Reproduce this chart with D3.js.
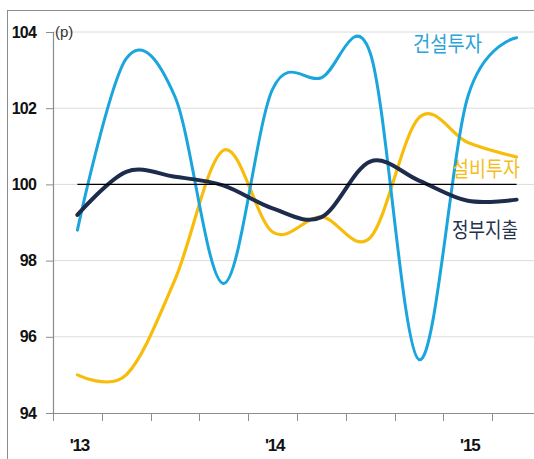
<!DOCTYPE html>
<html>
<head>
<meta charset="utf-8">
<script src="https://cdn.jsdelivr.net/npm/d3@7"></script>
<style>
  html, body { margin: 0; padding: 0; background: #fff; }
  svg { display: block; }
</style>
</head>
<body>
<svg id="chart" width="534" height="459"></svg>
<script>
// Quarterly index values, 2013 Q1 – 2015 Q2
const quarters = ["13Q1","13Q2","13Q3","13Q4","14Q1","14Q2","14Q3","14Q4","15Q1","15Q2"];
const construction = [98.8, 103.3, 102.3, 97.4, 102.5, 102.8, 103.45, 95.4, 102.3, 103.85]; // 건설투자
const equipment    = [95.0, 95.0, 97.5, 100.9, 98.75, 99.15, 98.6, 101.75, 101.1, 100.72]; // 설비투자
const government   = [99.2, 100.33, 100.2, 99.97, 99.37, 99.14, 100.6, 100.1, 99.57, 99.6]; // 정부지출
const baseline     = [100, 100, 100, 100, 100, 100, 100, 100, 100, 100];
const yTicks = [94, 96, 98, 100, 102, 104];
const yearLabels = {"13Q1": "'13", "14Q1": "'14", "15Q1": "'15"};

const svg = d3.select("#chart");

const x = d3.scaleBand().domain(quarters).range([53, 541]).padding(0);
const y = d3.scaleLinear().domain([94, 104]).range([413, 32]);
const cx = d => x(d) + x.bandwidth() / 2;

// outer frame
svg.append("rect")
  .attr("x", 7.5).attr("y", 10.5).attr("width", 600).attr("height", 600)
  .attr("fill", "none").attr("stroke", "#8c8c8c").attr("stroke-width", 1);

// horizontal gridlines
svg.append("g").selectAll("line")
  .data(yTicks.filter(t => t !== 94))
  .join("line")
  .attr("x1", 53).attr("x2", 534)
  .attr("y1", d => y(d)).attr("y2", d => y(d))
  .attr("stroke", "#dcdcdc").attr("stroke-width", 1);

// y axis
const yAxis = svg.append("g")
  .attr("transform", "translate(53,0)")
  .call(d3.axisLeft(y).tickValues(yTicks).tickSize(7).tickPadding(10).tickFormat(d3.format("d")));
yAxis.select(".domain").attr("stroke", "#8c8c8c").attr("stroke-width", 1.2);
yAxis.selectAll(".tick line").attr("stroke", "#8c8c8c");
yAxis.selectAll(".tick text")
  .attr("font-family", "'Liberation Sans', Arial, sans-serif")
  .attr("font-weight", "bold").attr("font-size", 16).attr("letter-spacing", -0.8)
  .attr("fill", "#111");

// unit label
svg.append("text")
  .attr("x", 55).attr("y", 37)
  .attr("font-family", "'Liberation Sans', Arial, sans-serif")
  .attr("font-size", 15).attr("fill", "#333")
  .text("(p)");

// x axis line
svg.append("line")
  .attr("x1", 53).attr("x2", 534).attr("y1", 413.5).attr("y2", 413.5)
  .attr("stroke", "#8c8c8c").attr("stroke-width", 1.2);

// tick marks on quarter boundaries
svg.append("g").selectAll("line")
  .data(quarters)
  .join("line")
  .attr("x1", d => Math.round(x(d)) + 0.5).attr("x2", d => Math.round(x(d)) + 0.5)
  .attr("y1", 413).attr("y2", 421)
  .attr("stroke", "#8c8c8c").attr("stroke-width", 1);

// year labels
svg.append("g").selectAll("text")
  .data(quarters.filter(q => yearLabels[q]))
  .join("text")
  .attr("x", d => cx(d) + 2).attr("y", 451)
  .attr("text-anchor", "middle")
  .attr("font-family", "'Liberation Sans', Arial, sans-serif")
  .attr("font-weight", "bold").attr("font-size", 17).attr("letter-spacing", -1.2)
  .attr("fill", "#111")
  .text(d => yearLabels[d]);

const line = d3.line()
  .x((d, i) => cx(quarters[i]))
  .y(d => y(d))
  .curve(d3.curveCardinal.tension(0));

svg.append("path").datum(equipment)
  .attr("d", line).attr("fill", "none")
  .attr("stroke", "#f7bd0a").attr("stroke-width", 3.2).attr("stroke-linecap", "round");

svg.append("path").datum(construction)
  .attr("d", line).attr("fill", "none")
  .attr("stroke", "#1aa6dc").attr("stroke-width", 3).attr("stroke-linecap", "round");

svg.append("path").datum(government)
  .attr("d", line).attr("fill", "none")
  .attr("stroke", "#1d2b4c").attr("stroke-width", 4).attr("stroke-linecap", "round");

// reference level at 100
svg.append("path").datum(baseline)
  .attr("d", d3.line().x((d, i) => cx(quarters[i])).y(d => y(d)))
  .attr("fill", "none").attr("stroke", "#000").attr("stroke-width", 1.3);

// series labels
const labels = [
  {text: "건설투자", x: 413, y: 51, len: 69, color: "#2aa3d8"},
  {text: "설비투자", x: 452, y: 176, len: 68, color: "#f5be1a"},
  {text: "정부지출", x: 452, y: 237, len: 66, color: "#26324c"}
];
svg.append("g").selectAll("text")
  .data(labels)
  .join("text")
  .attr("x", d => d.x).attr("y", d => d.y)
  .attr("textLength", d => d.len).attr("lengthAdjust", "spacingAndGlyphs")
  .attr("font-family", "'Noto Sans CJK KR', sans-serif")
  .attr("font-size", 21).attr("fill", d => d.color)
  .text(d => d.text);
</script>
</body>
</html>
